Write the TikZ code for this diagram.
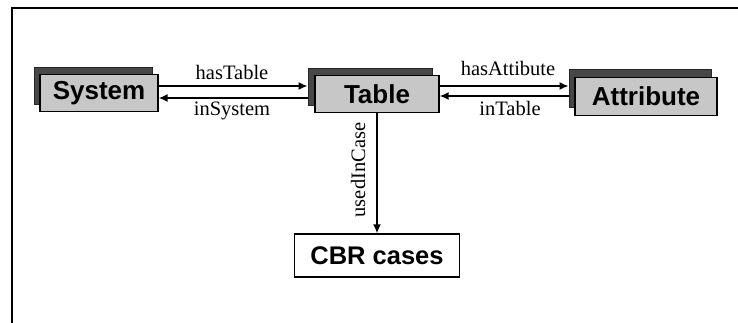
\documentclass[tikz,border=0pt]{standalone}
\usepackage{fontspec}
\setmainfont{Liberation Serif}
\setsansfont{Liberation Sans}
\usetikzlibrary{arrows.meta}

\tikzset{
  conceptbox/.style={draw=black, line width=1.4pt, fill=black!22,
    inner sep=0pt, font=\sffamily\bfseries\fontsize{26}{28}\selectfont},
  conceptshadow/.style={draw=black!85, line width=1pt, fill=black!72, inner sep=0pt},
  plainbox/.style={draw=black, line width=1.4pt, fill=white, inner sep=0pt,
    font=\sffamily\bfseries\fontsize{25.5}{27}\selectfont},
  relation/.style={line width=1.5pt, -{Latex[length=9pt,width=8pt]}},
  rellabel/.style={font=\fontsize{20.5}{22}\selectfont, inner sep=0pt},
  frameline/.style={line width=2pt}
}

\begin{document}
\begin{tikzpicture}[x=1pt, y=-1pt]
  \useasboundingbox (0,0) rectangle (738,323);

  % open frame: top and left edges only
  \draw[frameline] (12,323) -- (12,8) -- (738,8);

  % shadows (stacked cards behind the concepts)
  \node[conceptshadow, minimum width=118pt, minimum height=37pt] (syssh) at (93,86) {};
  \node[conceptshadow, minimum width=124pt, minimum height=37pt] (tabsh) at (370,87) {};
  \node[conceptshadow, minimum width=142pt, minimum height=38pt] (attsh) at (640,89) {};

  % concepts
  \node[conceptbox, minimum width=118pt, minimum height=37pt] (sys) at (99,93) {System};
  \node[conceptbox, minimum width=124pt, minimum height=37pt] (tab) at (377,94) {Table};
  \node[conceptbox, minimum width=142pt, minimum height=38pt] (att) at (646,96.5) {Attribute};
  \node[plainbox, minimum width=165pt, minimum height=43pt] (cbr) at (377,255.5) {CBR cases};

  % System <-> Table
  \draw[relation] ([yshift=7pt]sys.east) -- ([yshift=1pt]tabsh.west);
  \draw[relation] ([yshift=-11pt]tabsh.west) -- ([yshift=-5pt]sys.east);
  \node[rellabel] (hastable) at (232,72) {hasTable};
  \node[rellabel] (insystem) at (232,111) {inSystem};

  % Table <-> Attribute
  \draw[relation] ([yshift=8pt]tab.east) -- ([yshift=3pt]attsh.west);
  \draw[relation] ([yshift=-7pt]attsh.west) -- ([yshift=-2pt]tab.east);
  \node[rellabel] (hasattr) at (508,68) {hasAttibute};
  \node[rellabel] (intable) at (510,108) {inTable};

  % Table -> CBR cases
  \draw[relation] (tab.south) -- (cbr.north);
  \node[rellabel, rotate=90] (usedincase) at (358,170) {usedInCase};
\end{tikzpicture}
\end{document}
